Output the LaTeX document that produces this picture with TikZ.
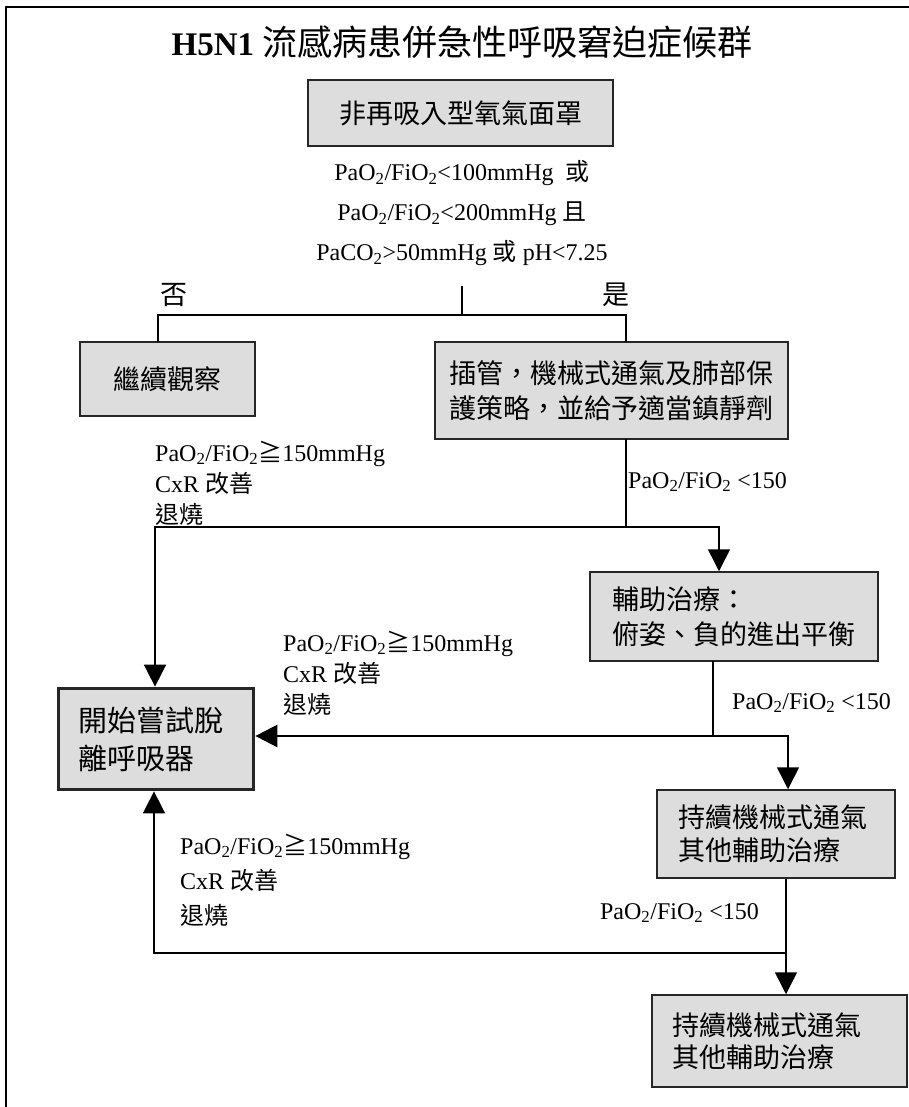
\documentclass[tikz,border=0pt]{standalone}
\usepackage{fontspec}
\setmainfont{Liberation Serif}
\newfontfamily\cjk{Noto Sans CJK TC}
\usetikzlibrary{arrows.meta}
\definecolor{boxgray}{RGB}{221,221,221}
\tikzset{
    box/.style={draw=black!85, fill=boxgray, line width=1.5pt, inner sep=0pt, font=\cjk\fontsize{27}{35}\selectfont},
    wire/.style={line width=1.6pt, line cap=rect},
    trunk/.style={line width=2.6pt, line cap=rect},
    flow/.style={line width=1.6pt, -{Triangle[width=22pt,length=22pt]}},
    lbl/.style={inner sep=0pt, align=left, font=\fontsize{24}{31}\selectfont},
    choice/.style={inner sep=0pt, font=\cjk\fontsize{27}{27}\selectfont}
}
\begin{document}
\begin{tikzpicture}[x=1pt, y=-1pt]
                \useasboundingbox (0,0) rectangle (909,1107);
                \draw[line width=2.5pt] (6,1107) -- (6,7) -- (909,7);
                \node (title) at (462,42) {\fontsize{33}{40}\selectfont\bfseries H5N1 {\cjk\mdseries\fontsize{35}{40}\selectfont 流感病患併急性呼吸窘迫症候群}};
                \node[box, minimum width=305pt, minimum height=66pt] (mask) at (460.5,113) {非再吸入型氧氣面罩};
                \node[lbl, align=center, font=\fontsize{24}{40}\selectfont] (cond) at (462,213) {PaO\textsubscript{2}/FiO\textsubscript{2}<100mmHg \ {\cjk 或}\\PaO\textsubscript{2}/FiO\textsubscript{2}<200mmHg {\cjk 且}\\PaCO\textsubscript{2}>50mmHg {\cjk 或} pH<7.25};
                \node[choice] (no) at (174,295) {否};
                \node[choice] (yes) at (616,295) {是};
                \node[box, minimum width=175pt, minimum height=74pt] (watch) at (167.5,379) {繼續觀察};
                \node[box, align=center, minimum width=353pt, minimum height=97pt] (intub) at (611.5,390.5) {插管，機械式通氣及肺部保\\護策略，並給予適當鎮靜劑};
                \node[box, align=left, inner xsep=22pt, text width=244pt, minimum height=89pt] (adjunct) at (734,616.5) {輔助治療：\\俯姿、負的進出平衡};
                \node[box, line width=3.75pt, align=left, inner xsep=20pt, text width=155pt, minimum height=101pt, font=\cjk\fontsize{29}{38}\selectfont] (wean) at (156,739) {開始嘗試脫\\離呼吸器};
                \node[box, align=left, inner xsep=21pt, text width=196pt, minimum height=88pt, font=\cjk\fontsize{27}{33}\selectfont] (cont1) at (776,834) {持續機械式通氣\\其他輔助治療};
                \node[box, align=left, inner xsep=20pt, text width=215pt, minimum height=92pt, font=\cjk\fontsize{27}{32}\selectfont] (cont2) at (779.5,1041) {持續機械式通氣\\其他輔助治療};
                \node[lbl, anchor=west] (passA) at (155,483) {PaO\textsubscript{2}/FiO\textsubscript{2}{\cjk ≧}150mmHg\\CxR {\cjk 改善}\\{\cjk 退燒}};
                \node[lbl, anchor=west] (failA) at (628,482) {PaO\textsubscript{2}/FiO\textsubscript{2} <150};
                \node[lbl, anchor=west] (passB) at (283,673) {PaO\textsubscript{2}/FiO\textsubscript{2}{\cjk ≧}150mmHg\\CxR {\cjk 改善}\\{\cjk 退燒}};
                \node[lbl, anchor=west] (failB) at (732,703) {PaO\textsubscript{2}/FiO\textsubscript{2} <150};
                \node[lbl, anchor=west, font=\fontsize{24}{35}\selectfont] (passC) at (180,880) {PaO\textsubscript{2}/FiO\textsubscript{2}{\cjk ≧}150mmHg\\CxR {\cjk 改善}\\{\cjk 退燒}};
                \node[lbl, anchor=east] (failC) at (759,913) {PaO\textsubscript{2}/FiO\textsubscript{2} <150};
                \coordinate (stub) at (462,287);
                \coordinate (fork) at (462,315);
                \coordinate (forkL) at (158,315);
                \coordinate (forkR) at (626,315);
                \draw[wire] (stub) -- (fork);
                \draw[trunk] (forkL) -- (forkR);
                \draw[wire] (forkL) -- (forkL |- watch.north);
                \draw[wire] (forkR) -- (forkR |- intub.north);
                \coordinate (joinA) at (626,527);
                \coordinate (joinAL) at (155,527);
                \coordinate (joinAR) at (719,527);
                \draw[wire] (intub.south -| joinA) -- (joinA);
                \draw[trunk] (joinAL) -- (joinAR);
                \draw[flow] (joinAR) -- (joinAR |- adjunct.north);
                \draw[flow] (joinAL) -- (joinAL |- wean.north);
                \coordinate (joinB) at (713,736);
                \coordinate (joinBR) at (788,736);
                \draw[wire] (adjunct.south -| joinB) -- (joinB);
                \draw[flow, trunk] (joinBR) -- (joinBR -| wean.east);
                \draw[flow] (joinBR) -- (joinBR |- cont1.north);
                \coordinate (joinC) at (786,953);
                \coordinate (joinCL) at (154,953);
                \draw[flow] (cont1.south -| joinC) -- (cont2.north -| joinC);
                \draw[trunk] (joinCL) -- (joinC);
                \draw[flow] (joinCL) -- (joinCL |- wean.south);
\end{tikzpicture}
\end{document}
